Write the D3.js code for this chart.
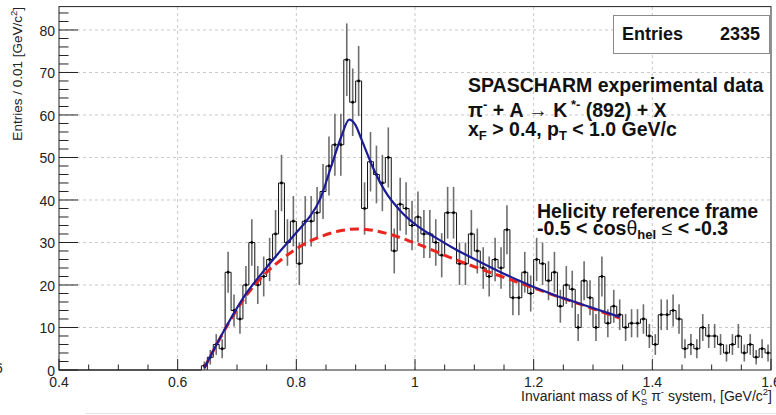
<!DOCTYPE html>
<html><head><meta charset="utf-8">
<script src="https://cdn.jsdelivr.net/npm/d3@7"></script>
<style>
body{margin:0;background:#fff;}
svg{display:block;font-family:"Liberation Sans",Arial,Helvetica,sans-serif;}
</style>
</head><body>
<svg id="c" width="776" height="415"></svg>
<script>
// ---------------- data ----------------
const binStart = 0.64;      // first filled bin low edge [GeV/c^2]
const binWidth = 0.01;
const counts = [
  1, 3, 6, 5, 23, 14, 12, 20, 30, 20,
  22, 26, 32, 44, 30, 35, 25, 35, 35, 37,
  42, 48, 53, 53, 73, 63, 68, 38, 49, 46,
  44, 50, 28, 39, 38, 34, 36, 32, 32, 30,
  27, 37, 37, 25, 25, 32, 28, 24, 22, 26,
  24, 33, 17, 17, 23, 18, 26, 25, 21, 23,
  15, 20, 19, 10, 21, 17, 10, 22, 11, 15,
  13, 10, 11, 11, 12, 8, 6, 13, 13, 14,
  12, 5, 6, 5, 10, 8, 8, 6, 4, 6,
  8, 4, 6, 3, 5, 4
];
// total fit (signal + background)
const fitMass  = [0.645,0.685,0.713,0.742,0.770,0.798,0.820,0.840,0.859,0.876,0.889,0.899,0.910,0.927,0.949,0.977,1.005,1.034,1.062,1.090,1.118,1.146,1.174,1.202,1.230,1.278,1.345];
const fitTotal = [0.5, 11.0, 17.5, 22.8, 27.5, 32.0, 35.6, 40.2, 48.0, 55.0, 58.9, 57.8, 54.2, 48.3, 42.2, 37.2, 33.8, 31.2, 28.9, 26.8, 24.8, 22.9, 21.1, 19.4, 17.9, 15.6, 12.5];
// background component
const bgMass  = [0.645,0.685,0.713,0.750,0.775,0.809,0.843,0.876,0.904,0.932,0.958,1.005,1.062,1.118,1.174,1.230,1.278,1.345];
const bgValue = [0.5, 10.8, 17.0, 23.0, 26.0, 29.3, 31.5, 32.8, 33.2, 32.8, 31.9, 29.6, 26.3, 23.4, 20.6, 17.8, 15.5, 12.2];

const xTicks = [0.4, 0.6, 0.8, 1.0, 1.2, 1.4, 1.6];
const xTickLabels = ["0.4", "0.6", "0.8", "1", "1.2", "1.4", "1.6"];
const yTicks = [0, 10, 20, 30, 40, 50, 60, 70, 80];
const yTickLabels = ["0", "10", "20", "30", "40", "50", "60", "70", "80"];
const entries = 2335;

// ---------------- layout ----------------
const L = 59, R = 771, T = 6.6, B = 370;
const x = d3.scaleLinear().domain([0.4, 1.6]).range([L, R]);
const y = d3.scaleLinear().domain([0, 85.5]).range([B, T]);
const svg = d3.select("#c");

// grid
const grid = svg.append("g").attr("stroke", "#c8c8c8").attr("stroke-dasharray", "3,3").attr("stroke-width", 1);
xTicks.slice(1, -1).forEach(v => grid.append("line").attr("x1", x(v)).attr("x2", x(v)).attr("y1", B).attr("y2", T));
yTicks.slice(1).forEach(v => grid.append("line").attr("x1", L).attr("x2", R).attr("y1", y(v)).attr("y2", y(v)));

// histogram
const bins = counts.map((c, i) => ({lo: binStart + i * binWidth, c}));
const stepPts = [[0.4, 0]].concat(bins.map(b => [b.lo, b.c]));
stepPts.push([binStart + counts.length * binWidth, counts[counts.length - 1]]);
const eb = svg.append("g");
eb.selectAll("line").data(bins).join("line")
  .attr("x1", b => x(b.lo + binWidth / 2)).attr("x2", b => x(b.lo + binWidth / 2))
  .attr("y1", b => y(b.c - Math.sqrt(b.c))).attr("y2", b => y(b.c + Math.sqrt(b.c)))
  .attr("stroke", "#6e6e6e").attr("stroke-width", 1.6);
svg.append("path")
  .attr("d", d3.line().x(d => x(d[0])).y(d => y(d[1])).curve(d3.curveStepAfter)(stepPts))
  .attr("fill", "none").attr("stroke", "#111").attr("stroke-width", 1);
svg.append("g").selectAll("circle").data(bins).join("circle")
  .attr("cx", b => x(b.lo + binWidth / 2)).attr("cy", b => y(b.c)).attr("r", 1.4).attr("fill", "#000");

// curves
const curveLine = d3.line().x(d => x(d[0])).y(d => y(d[1])).curve(d3.curveMonotoneX);
svg.append("path").attr("d", curveLine(bgMass.map((m, i) => [m, bgValue[i]])))
  .attr("fill", "none").attr("stroke", "#e8251e").attr("stroke-width", 3).attr("stroke-dasharray", "9,5");
svg.append("path").attr("d", curveLine(fitMass.map((m, i) => [m, fitTotal[i]])))
  .attr("fill", "none").attr("stroke", "#1c1c96").attr("stroke-width", 2.2);

// frame
svg.append("rect").attr("x", L).attr("y", T).attr("width", R - L).attr("height", B - T)
  .attr("fill", "none").attr("stroke", "#222").attr("stroke-width", 1);

// ticks
const tk = svg.append("g").attr("stroke", "#222").attr("stroke-width", 1);
d3.range(0, 86, 2).forEach(v => {
  const major = v % 10 === 0;
  tk.append("line").attr("x1", L).attr("x2", L + (major ? 19 : 9.5)).attr("y1", y(v)).attr("y2", y(v));
});
d3.range(0, 25).map(i => 0.4 + i * 0.05).forEach((v, i) => {
  const major = i % 4 === 0;
  tk.append("line").attr("x1", x(v)).attr("x2", x(v)).attr("y1", B).attr("y2", B - (major ? 11 : 5.5));
});

// tick labels
const lab = svg.append("g").attr("font-size", 14).attr("fill", "#222");
yTicks.forEach((v, i) => lab.append("text").attr("x", 55).attr("y", y(v) + 6).attr("text-anchor", "end").text(yTickLabels[i]));
xTicks.forEach((v, i) => lab.append("text").attr("x", x(v)).attr("y", 387).attr("text-anchor", "middle").text(xTickLabels[i]));
lab.append("text").attr("x", -5).attr("y", 373).text("6");

// axis titles
svg.append("text").attr("transform", "translate(22,7) rotate(-90)").attr("text-anchor", "end")
  .attr("font-size", 13.5).attr("fill", "#222")
  .html('Entries / 0.01 [GeV/c<tspan dy="-5" font-size="9.5">2</tspan><tspan dy="5">]</tspan>');
svg.append("text").attr("x", 772).attr("y", 401).attr("text-anchor", "end")
  .attr("font-size", 14).attr("fill", "#222")
  .html('Invariant mass of K<tspan dy="-6" font-size="9.5">0</tspan><tspan dx="-5.3" dy="10" font-size="9.5">S</tspan><tspan dy="-4"> π</tspan><tspan dy="-6" font-size="9.5">-</tspan><tspan dy="6"> system, [GeV/c</tspan><tspan dy="-6" font-size="9.5">2</tspan><tspan dy="6">]</tspan>');

// faint bottom line
svg.append("line").attr("x1", 85).attr("x2", 776).attr("y1", 413.5).attr("y2", 413.5).attr("stroke", "#e6e6e6");

// stat box
svg.append("rect").attr("x", 613.5).attr("y", 15.5).attr("width", 156).attr("height", 38)
  .attr("fill", "#fff").attr("stroke", "#8a8a8a").attr("stroke-width", 1);
svg.append("text").attr("x", 622).attr("y", 40).attr("font-size", 18).attr("font-weight", "bold").attr("fill", "#111").text("Entries");
svg.append("text").attr("x", 760).attr("y", 40).attr("text-anchor", "end").attr("font-size", 18).attr("font-weight", "bold").attr("fill", "#111").text(entries);

// annotations
const ann = svg.append("g").attr("font-size", 19.5).attr("font-weight", "bold").attr("fill", "#111");
ann.append("text").attr("x", 468).attr("y", 92).text("SPASCHARM experimental data");
ann.append("text").attr("x", 468).attr("y", 117)
  .html('π<tspan dy="-8" font-size="13">-</tspan><tspan dy="8"> + A </tspan><tspan font-weight="normal">→</tspan><tspan> K</tspan><tspan dy="-8" font-size="13"> *-</tspan><tspan dy="8"> (892) + X</tspan>');
ann.append("text").attr("x", 468).attr("y", 136)
  .html('x<tspan dy="4" font-size="13">F</tspan><tspan dy="-4"> &gt; 0.4, p</tspan><tspan dy="4" font-size="13">T</tspan><tspan dy="-4"> &lt; 1.0 GeV/c</tspan>');
ann.append("text").attr("x", 537).attr("y", 218).text("Helicity reference frame");
ann.append("text").attr("x", 537).attr("y", 235)
  .html('-0.5 &lt; cos<tspan font-weight="normal">θ</tspan><tspan dy="4" font-size="13">hel</tspan><tspan dy="-4" font-weight="normal"> ≤</tspan><tspan> &lt; -0.3</tspan>');
</script>
</body></html>
